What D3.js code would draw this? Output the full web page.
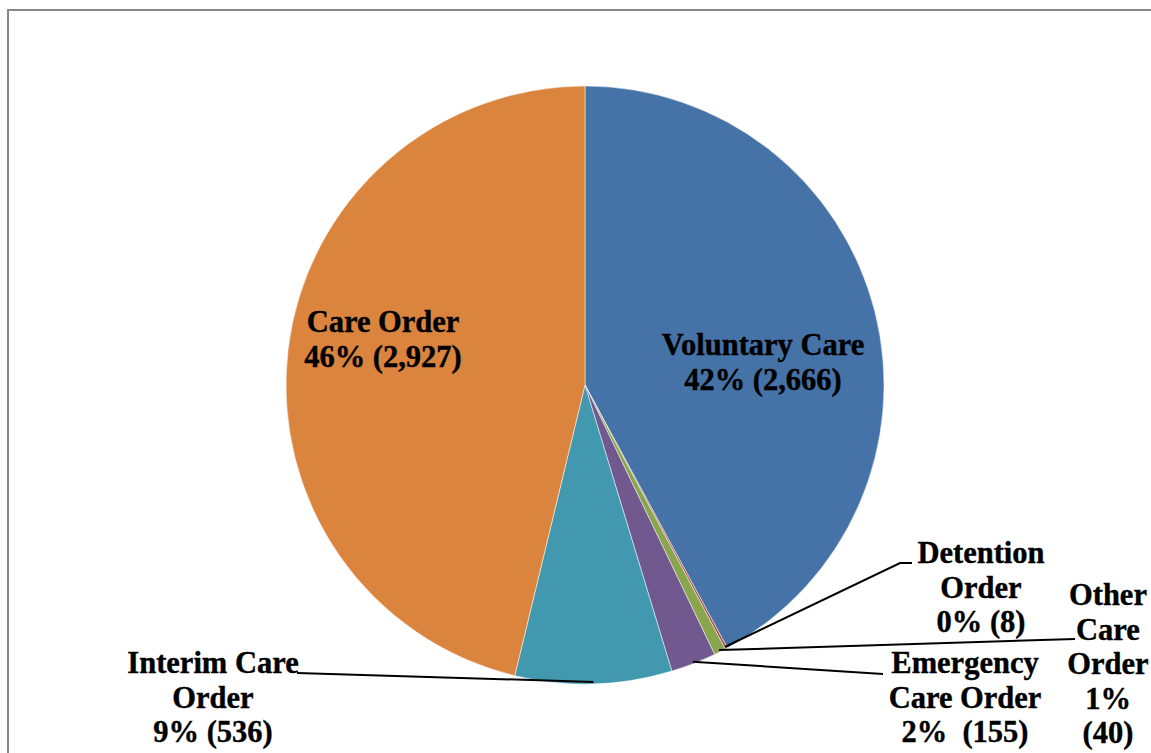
<!DOCTYPE html>
<html>
<head>
<meta charset="utf-8">
<script src="https://cdn.jsdelivr.net/npm/d3@7"></script>
<style>
  body { margin: 0; background: #fff; }
  svg { display: block; }
  .lbl { font-family: "Liberation Serif", "Times New Roman", serif; font-weight: bold; font-size: 30.5px;
         fill: #000; stroke: #000; stroke-width: 0.4px; }
</style>
</head>
<body>
<svg id="chart" width="1151" height="753"></svg>
<script>
// slice data, clockwise from 12 o'clock
var categories = ['Voluntary Care', 'Detention Order', 'Other Care Order',
                  'Emergency Care Order', 'Interim Care Order', 'Care Order'];
var counts = [2666, 8, 40, 155, 536, 2927];
var percentLabels = ['42%', '0%', '1%', '2%', '9%', '46%'];
var colors = ['#4572A7', '#AA4643', '#89A54E', '#71588F', '#4198AF', '#DB843D'];

// label text lines and where they sit (layout only)
var labelLines = [
  ['Voluntary Care', '42% (2,666)'],
  ['Detention', 'Order', '0% (8)'],
  ['Other', 'Care', 'Order', '1%', '(40)'],
  ['Emergency', 'Care Order', '2%  (155)'],
  ['Interim Care', 'Order', '9% (536)'],
  ['Care Order', '46% (2,927)']
];
var labelPos = [
  {x: 763, y: 355}, {x: 981, y: 563}, {x: 1108, y: 605},
  {x: 965, y: 673}, {x: 213, y: 673}, {x: 383, y: 332}
];
// leader line: elbow point + end point, null when label sits inside slice
var leaders = [
  null,
  [[900, 563], [912, 563]],
  [[1075, 639], [1075, 639]],
  [[883, 674], [883, 674]],
  [[297, 673], [297, 673]],
  null
];

var LINE_H = 34.5;
var cx = 585, cy = 385, radius = 299;

var svg = d3.select('#chart');

// chart area border (runs off the right and bottom of the picture)
svg.append('rect')
    .attr('x', 8).attr('y', 10)
    .attr('width', 1200).attr('height', 800)
    .attr('fill', 'none')
    .attr('stroke', '#878787')
    .attr('stroke-width', 2);

var pie = d3.pie().sort(null).value(function(d) { return d; });
var arcs = pie(counts);
var arc = d3.arc().innerRadius(0).outerRadius(radius);

var g = svg.append('g').attr('transform', 'translate(' + cx + ',' + cy + ')');

g.selectAll('path.slice')
    .data(arcs)
  .enter().append('path')
    .attr('class', 'slice')
    .attr('d', arc)
    .attr('fill', function(d, i) { return colors[i]; })
    .attr('stroke', '#fff')
    .attr('stroke-width', 0.5);

// leader lines
arcs.forEach(function(d, i) {
  if (!leaders[i]) return;
  var mid = (d.startAngle + d.endAngle) / 2;
  var r = radius - 2;
  var start = [cx + Math.sin(mid) * r, cy - Math.cos(mid) * r];
  var pts = [start, leaders[i][0], leaders[i][1]];
  svg.append('path')
      .attr('d', d3.line()(pts))
      .attr('fill', 'none')
      .attr('stroke', '#000')
      .attr('stroke-width', 2);
});

// labels
labelLines.forEach(function(lines, i) {
  var t = svg.append('text')
      .attr('class', 'lbl')
      .attr('text-anchor', 'middle');
  lines.forEach(function(line, j) {
    t.append('tspan')
        .attr('x', labelPos[i].x)
        .attr('y', labelPos[i].y + j * LINE_H)
        .attr('xml:space', 'preserve')
        .text(line);
  });
});
</script>
</body>
</html>
